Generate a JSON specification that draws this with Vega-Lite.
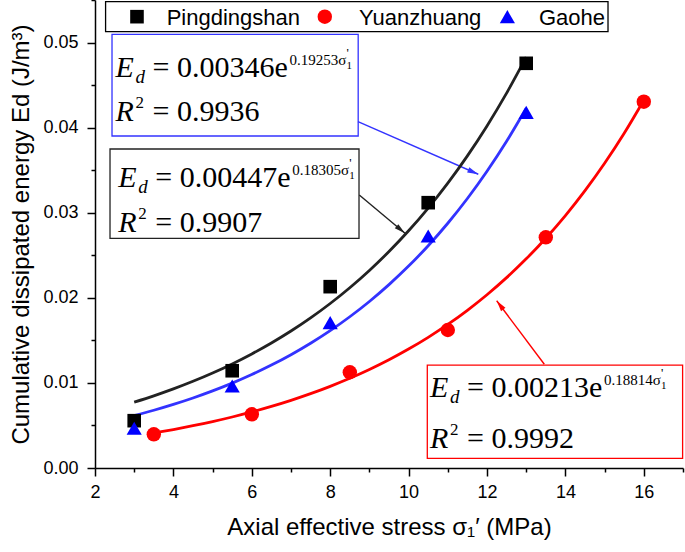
{
  "$schema": "https://vega.github.io/schema/vega-lite/v6.json",
  "width": 588,
  "height": 468,
  "autosize": {"type": "none"},
  "padding": {"left": 95, "top": 0, "right": 2, "bottom": 84},
  "background": "white",
  "config": {"view": {"stroke": null}, "font": "Liberation Sans"},
  "datasets": {
    "pts": [
      {"site": "Pingdingshan", "x": 3, "y": 0.00556},
      {"site": "Pingdingshan", "x": 5.5, "y": 0.01143},
      {"site": "Pingdingshan", "x": 8, "y": 0.02131},
      {"site": "Pingdingshan", "x": 10.5, "y": 0.03118},
      {"site": "Pingdingshan", "x": 13, "y": 0.04756},
      {"site": "Yuanzhuang", "x": 3.5, "y": 0.00396},
      {"site": "Yuanzhuang", "x": 6, "y": 0.00631},
      {"site": "Yuanzhuang", "x": 8.5, "y": 0.01125},
      {"site": "Yuanzhuang", "x": 11, "y": 0.01622},
      {"site": "Yuanzhuang", "x": 13.5, "y": 0.02711},
      {"site": "Yuanzhuang", "x": 16, "y": 0.04305},
      {"site": "Gaohe", "x": 3, "y": 0.00467},
      {"site": "Gaohe", "x": 5.5, "y": 0.00964},
      {"site": "Gaohe", "x": 8, "y": 0.01708},
      {"site": "Gaohe", "x": 10.5, "y": 0.02726},
      {"site": "Gaohe", "x": 13, "y": 0.0418}
    ],
    "fit": [
      {"site": "Pingdingshan", "x": 3.0, "y": 0.007741},
      {"site": "Pingdingshan", "x": 3.5, "y": 0.008483},
      {"site": "Pingdingshan", "x": 4.0, "y": 0.009296},
      {"site": "Pingdingshan", "x": 4.5, "y": 0.010187},
      {"site": "Pingdingshan", "x": 5.0, "y": 0.011163},
      {"site": "Pingdingshan", "x": 5.5, "y": 0.012233},
      {"site": "Pingdingshan", "x": 6.0, "y": 0.013406},
      {"site": "Pingdingshan", "x": 6.5, "y": 0.014690},
      {"site": "Pingdingshan", "x": 7.0, "y": 0.016098},
      {"site": "Pingdingshan", "x": 7.5, "y": 0.017641},
      {"site": "Pingdingshan", "x": 8.0, "y": 0.019332},
      {"site": "Pingdingshan", "x": 8.5, "y": 0.021185},
      {"site": "Pingdingshan", "x": 9.0, "y": 0.023215},
      {"site": "Pingdingshan", "x": 9.5, "y": 0.025440},
      {"site": "Pingdingshan", "x": 10.0, "y": 0.027878},
      {"site": "Pingdingshan", "x": 10.5, "y": 0.030550},
      {"site": "Pingdingshan", "x": 11.0, "y": 0.033478},
      {"site": "Pingdingshan", "x": 11.5, "y": 0.036686},
      {"site": "Pingdingshan", "x": 12.0, "y": 0.040202},
      {"site": "Pingdingshan", "x": 12.5, "y": 0.044055},
      {"site": "Pingdingshan", "x": 13.0, "y": 0.048277},
      {"site": "Yuanzhuang", "x": 3.5, "y": 0.004115},
      {"site": "Yuanzhuang", "x": 4.0, "y": 0.004521},
      {"site": "Yuanzhuang", "x": 4.5, "y": 0.004967},
      {"site": "Yuanzhuang", "x": 5.0, "y": 0.005457},
      {"site": "Yuanzhuang", "x": 5.5, "y": 0.005995},
      {"site": "Yuanzhuang", "x": 6.0, "y": 0.006586},
      {"site": "Yuanzhuang", "x": 6.5, "y": 0.007236},
      {"site": "Yuanzhuang", "x": 7.0, "y": 0.007949},
      {"site": "Yuanzhuang", "x": 7.5, "y": 0.008734},
      {"site": "Yuanzhuang", "x": 8.0, "y": 0.009595},
      {"site": "Yuanzhuang", "x": 8.5, "y": 0.010541},
      {"site": "Yuanzhuang", "x": 9.0, "y": 0.011581},
      {"site": "Yuanzhuang", "x": 9.5, "y": 0.012723},
      {"site": "Yuanzhuang", "x": 10.0, "y": 0.013978},
      {"site": "Yuanzhuang", "x": 10.5, "y": 0.015357},
      {"site": "Yuanzhuang", "x": 11.0, "y": 0.016872},
      {"site": "Yuanzhuang", "x": 11.5, "y": 0.018536},
      {"site": "Yuanzhuang", "x": 12.0, "y": 0.020364},
      {"site": "Yuanzhuang", "x": 12.5, "y": 0.022373},
      {"site": "Yuanzhuang", "x": 13.0, "y": 0.024580},
      {"site": "Yuanzhuang", "x": 13.5, "y": 0.027004},
      {"site": "Yuanzhuang", "x": 14.0, "y": 0.029668},
      {"site": "Yuanzhuang", "x": 14.5, "y": 0.032594},
      {"site": "Yuanzhuang", "x": 15.0, "y": 0.035809},
      {"site": "Yuanzhuang", "x": 15.5, "y": 0.039341},
      {"site": "Yuanzhuang", "x": 16.0, "y": 0.043221},
      {"site": "Gaohe", "x": 3.0, "y": 0.006165},
      {"site": "Gaohe", "x": 3.5, "y": 0.006788},
      {"site": "Gaohe", "x": 4.0, "y": 0.007474},
      {"site": "Gaohe", "x": 4.5, "y": 0.008229},
      {"site": "Gaohe", "x": 5.0, "y": 0.009060},
      {"site": "Gaohe", "x": 5.5, "y": 0.009976},
      {"site": "Gaohe", "x": 6.0, "y": 0.010984},
      {"site": "Gaohe", "x": 6.5, "y": 0.012094},
      {"site": "Gaohe", "x": 7.0, "y": 0.013316},
      {"site": "Gaohe", "x": 7.5, "y": 0.014662},
      {"site": "Gaohe", "x": 8.0, "y": 0.016143},
      {"site": "Gaohe", "x": 8.5, "y": 0.017775},
      {"site": "Gaohe", "x": 9.0, "y": 0.019571},
      {"site": "Gaohe", "x": 9.5, "y": 0.021549},
      {"site": "Gaohe", "x": 10.0, "y": 0.023726},
      {"site": "Gaohe", "x": 10.5, "y": 0.026124},
      {"site": "Gaohe", "x": 11.0, "y": 0.028764},
      {"site": "Gaohe", "x": 11.5, "y": 0.031670},
      {"site": "Gaohe", "x": 12.0, "y": 0.034870},
      {"site": "Gaohe", "x": 12.5, "y": 0.038394},
      {"site": "Gaohe", "x": 13.0, "y": 0.042274}
    ],
    "boxes": [
      {"site": "Gaohe", "x": 2.434, "x2": 8.714, "y": 0.05097, "y2": 0.03902},
      {"site": "Pingdingshan", "x": 2.383, "x2": 8.735, "y": 0.03749, "y2": 0.02699},
      {"site": "Yuanzhuang", "x": 10.477, "x2": 16.99, "y": 0.0121, "y2": 0.00114}
    ],
    "legendframe": [
      {"x": 2.27, "x2": 15.087, "y": 0.0548, "y2": 0.05128}
    ],
    "legenditems": [
      {"site": "Pingdingshan", "x": 3.071, "y": 0.05304, "lx": 3.829},
      {"site": "Yuanzhuang", "x": 7.862, "y": 0.05304, "lx": 8.735},
      {"site": "Gaohe", "x": 12.52, "y": 0.05304, "lx": 13.324}
    ],
    "arrows": [
      {"site": "Gaohe", "x": 8.709, "y": 0.0407, "x2": 11.778, "y2": 0.03452},
      {"site": "Pingdingshan", "x": 8.742, "y": 0.03208, "x2": 9.908, "y2": 0.02758},
      {"site": "Yuanzhuang", "x": 13.462, "y": 0.01219, "x2": 12.247, "y2": 0.01966}
    ],
    "heads": [
      {"site": "Gaohe", "x": 11.778, "y": 0.03452},
      {"site": "Pingdingshan", "x": 9.908, "y": 0.02758},
      {"site": "Yuanzhuang", "x": 12.247, "y": 0.01966}
    ],
    "eq1": [
      {"site": "Gaohe", "x": 2.5255, "y": 0.045915, "l1": "= 0.00346e", "sup": "0.19253σ"},
      {"site": "Pingdingshan", "x": 2.5944, "y": 0.033058, "l1": "= 0.00447e", "sup": "0.18305σ"},
      {"site": "Yuanzhuang", "x": 10.5459, "y": 0.008309, "l1": "= 0.00213e", "sup": "0.18814σ"}
    ],
    "eq2": [
      {"site": "Gaohe", "x": 2.5255, "y": 0.04078, "l2": "= 0.9936"},
      {"site": "Pingdingshan", "x": 2.5944, "y": 0.02777, "l2": "= 0.9907"},
      {"site": "Yuanzhuang", "x": 10.5459, "y": 0.002315, "l2": "= 0.9992"}
    ]
  },
  "encoding": {
    "x": {
      "field": "x", "type": "quantitative",
      "scale": {"domain": [2, 17], "nice": false, "zero": false},
      "axis": {
        "title": "Axial effective stress σ₁′ (MPa)",
        "values": [2, 3, 4, 5, 6, 7, 8, 9, 10, 11, 12, 13, 14, 15, 16, 17],
        "labelExpr": "datum.value % 2 == 0 ? datum.value + '' : ''",
        "tickSize": {"condition": {"test": "datum.value % 2 != 0", "value": 4}, "value": 8},
        "grid": false, "labelFlush": false, "labelOverlap": false,
        "domainColor": "black", "domainWidth": 1.5, "tickColor": "black", "tickWidth": 1.5,
        "labelFont": "Liberation Sans", "labelFontSize": 18, "labelColor": "black", "labelPadding": 7,
        "titleFont": "Liberation Sans", "titleFontSize": 24, "titleFontWeight": "normal", "titleColor": "black", "titlePadding": 14
      }
    },
    "y": {
      "field": "y", "type": "quantitative",
      "scale": {"domain": [0, 0.055], "nice": false, "zero": false},
      "axis": {
        "title": "Cumulative dissipated energy Ed (J/m³)",
        "values": [0, 0.005, 0.01, 0.015, 0.02, 0.025, 0.03, 0.035, 0.04, 0.045, 0.05, 0.055],
        "labelExpr": "round(datum.value * 1000) % 10 == 0 ? format(datum.value, '.2f') : ''",
        "tickSize": {"condition": {"test": "round(datum.value * 1000) % 10 != 0", "value": 4}, "value": 8},
        "grid": false, "labelFlush": false, "labelOverlap": false,
        "domainColor": "black", "domainWidth": 1.5, "tickColor": "black", "tickWidth": 1.5,
        "labelFont": "Liberation Sans", "labelFontSize": 18, "labelColor": "black", "labelPadding": 9,
        "titleFont": "Liberation Sans", "titleFontSize": 24, "titleFontWeight": "normal", "titleColor": "black", "titlePadding": 9
      }
    }
  },
  "layer": [
    {
      "data": {"name": "legendframe"},
      "mark": {"type": "rect", "fill": "white", "stroke": "black", "strokeWidth": 1.3},
      "encoding": {"x2": {"field": "x2"}, "y2": {"field": "y2"}}
    },
    {
      "data": {"name": "boxes"},
      "mark": {"type": "rect", "fill": "white", "strokeWidth": 1.3},
      "encoding": {
        "x2": {"field": "x2"}, "y2": {"field": "y2"},
        "stroke": {"field": "site", "type": "nominal", "scale": {"domain": ["Pingdingshan", "Yuanzhuang", "Gaohe"], "range": ["#222222", "#ff0000", "#3333ff"]}, "legend": null}
      }
    },
    {
      "data": {"name": "arrows"},
      "mark": {"type": "rule", "strokeWidth": 1.4},
      "encoding": {
        "x2": {"field": "x2"}, "y2": {"field": "y2"},
        "stroke": {"field": "site", "type": "nominal", "scale": {"domain": ["Pingdingshan", "Yuanzhuang", "Gaohe"], "range": ["#222222", "#ff0000", "#3333ff"]}, "legend": null}
      }
    },
    {
      "data": {"name": "heads"},
      "transform": [{"filter": "datum.site == 'Gaohe'"}],
      "mark": {"type": "point", "shape": "M0,0L-0.5,2L0.5,2Z", "size": 121, "filled": true, "color": "#3333ff", "opacity": 1, "angle": 113.6}
    },
    {
      "data": {"name": "heads"},
      "transform": [{"filter": "datum.site == 'Pingdingshan'"}],
      "mark": {"type": "point", "shape": "M0,0L-0.5,2L0.5,2Z", "size": 121, "filled": true, "color": "#222222", "opacity": 1, "angle": 130}
    },
    {
      "data": {"name": "heads"},
      "transform": [{"filter": "datum.site == 'Yuanzhuang'"}],
      "mark": {"type": "point", "shape": "M0,0L-0.5,2L0.5,2Z", "size": 121, "filled": true, "color": "#ff0000", "opacity": 1, "angle": 323.2}
    },
    {
      "data": {"name": "fit"},
      "mark": {"type": "line", "strokeWidth": 2.8, "interpolate": "monotone"},
      "encoding": {
        "stroke": {"field": "site", "type": "nominal", "scale": {"domain": ["Pingdingshan", "Yuanzhuang", "Gaohe"], "range": ["#000000", "#ff0000", "#0000ff"]}, "legend": null}
      }
    },
    {
      "data": {"name": "pts"},
      "mark": {"type": "point", "filled": true, "opacity": 1},
      "encoding": {
        "color": {"field": "site", "type": "nominal", "scale": {"domain": ["Pingdingshan", "Yuanzhuang", "Gaohe"], "range": ["#000000", "#ff0000", "#0000ff"]}, "legend": null},
        "shape": {"field": "site", "type": "nominal", "scale": {"domain": ["Pingdingshan", "Yuanzhuang", "Gaohe"], "range": ["square", "circle", "triangle-up"]}, "legend": null},
        "size": {"field": "site", "type": "nominal", "scale": {"domain": ["Pingdingshan", "Yuanzhuang", "Gaohe"], "range": [185, 230, 300]}, "legend": null}
      }
    },
    {
      "data": {"name": "legenditems"},
      "mark": {"type": "point", "filled": true, "opacity": 1},
      "encoding": {
        "color": {"field": "site", "type": "nominal", "scale": {"domain": ["Pingdingshan", "Yuanzhuang", "Gaohe"], "range": ["#000000", "#ff0000", "#0000ff"]}, "legend": null},
        "shape": {"field": "site", "type": "nominal", "scale": {"domain": ["Pingdingshan", "Yuanzhuang", "Gaohe"], "range": ["square", "circle", "triangle-up"]}, "legend": null},
        "size": {"field": "site", "type": "nominal", "scale": {"domain": ["Pingdingshan", "Yuanzhuang", "Gaohe"], "range": [185, 230, 300]}, "legend": null}
      }
    },
    {
      "data": {"name": "legenditems"},
      "mark": {"type": "text", "font": "Liberation Sans", "fontSize": 22, "align": "left", "baseline": "middle", "color": "black", "dy": 1},
      "encoding": {"x": {"field": "lx", "type": "quantitative"}, "text": {"field": "site"}}
    },
    {
      "data": {"name": "eq1"},
      "mark": {"type": "text", "text": "E", "font": "Liberation Serif", "fontStyle": "italic", "fontSize": 30, "align": "left", "baseline": "alphabetic", "color": "black"}
    },
    {
      "data": {"name": "eq1"},
      "mark": {"type": "text", "text": "d", "font": "Liberation Serif", "fontStyle": "italic", "fontSize": 19, "align": "left", "baseline": "alphabetic", "color": "black", "dx": 20, "dy": 6}
    },
    {
      "data": {"name": "eq1"},
      "mark": {"type": "text", "font": "Liberation Serif", "fontSize": 30, "align": "left", "baseline": "alphabetic", "color": "black", "dx": 37},
      "encoding": {"text": {"field": "l1"}}
    },
    {
      "data": {"name": "eq1"},
      "mark": {"type": "text", "font": "Liberation Serif", "fontSize": 15, "align": "left", "baseline": "alphabetic", "color": "black", "dx": 174, "dy": -12},
      "encoding": {"text": {"field": "sup"}}
    },
    {
      "data": {"name": "eq1"},
      "mark": {"type": "text", "text": "1", "font": "Liberation Serif", "fontSize": 11, "align": "left", "baseline": "alphabetic", "color": "black", "dx": 231, "dy": -8}
    },
    {
      "data": {"name": "eq1"},
      "mark": {"type": "text", "text": "'", "font": "Liberation Serif", "fontSize": 13, "align": "left", "baseline": "alphabetic", "color": "black", "dx": 231, "dy": -20}
    },
    {
      "data": {"name": "eq2"},
      "mark": {"type": "text", "text": "R", "font": "Liberation Serif", "fontStyle": "italic", "fontSize": 30, "align": "left", "baseline": "alphabetic", "color": "black"}
    },
    {
      "data": {"name": "eq2"},
      "mark": {"type": "text", "text": "2", "font": "Liberation Serif", "fontSize": 17, "align": "left", "baseline": "alphabetic", "color": "black", "dx": 20, "dy": -13}
    },
    {
      "data": {"name": "eq2"},
      "mark": {"type": "text", "font": "Liberation Serif", "fontSize": 30, "align": "left", "baseline": "alphabetic", "color": "black", "dx": 37},
      "encoding": {"text": {"field": "l2"}}
    }
  ]
}
